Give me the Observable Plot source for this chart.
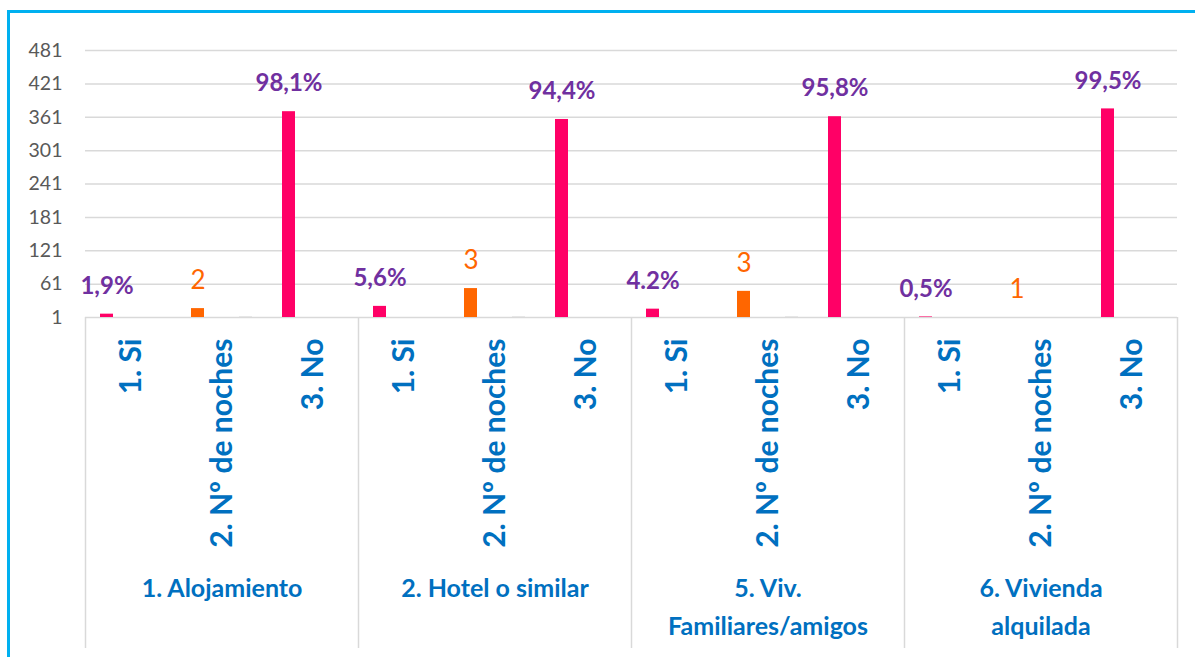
<!DOCTYPE html>
<html><head><meta charset="utf-8">
<script src="https://cdn.jsdelivr.net/npm/d3@7"></script>
<script src="https://cdn.jsdelivr.net/npm/@observablehq/plot@0.6"></script>
<style>
body{margin:0;background:#fff;}
#wrap{position:relative;width:1195px;height:657px;overflow:hidden;}
#border{position:absolute;left:7px;top:10px;width:1300px;height:800px;border-left:3px solid #00B0F0;border-top:3px solid #00B0F0;pointer-events:none;}
</style></head><body>
<div id="wrap"><div id="chart"></div><div id="border"></div></div>
<script>
const groups = ["1. Alojamiento", "2. Hotel o similar", "5. Viv.\nFamiliares/amigos", "6. Vivienda\nalquilada"];
const subcats = ["1. Si", "2. Nº de noches", "3. No"];
const siCounts = [7, 21, 16, 2];
const nochesCounts = [17, 53, 48, 1];
const noCounts = [371, 357, 362, 376];
const otherCounts = [2, 2, 2, 1];
const siLabels = ["1,9%", "5,6%", "4.2%", "0,5%"];
const noLabels = ["98,1%", "94,4%", "95,8%", "99,5%"];
const nochesLabels = ["2", "3", "3", "1"];
const yTicks = [1, 61, 121, 181, 241, 301, 361, 421, 481];

const keyOf = (g, s) => g + "|" + s;
const keys = groups.flatMap(g => subcats.map(s => keyOf(g, s)));

const mainBars = groups.flatMap((g, i) => [
  {key: keyOf(g, subcats[0]), value: siCounts[i], series: "si"},
  {key: keyOf(g, subcats[1]), value: nochesCounts[i], series: "noches"},
  {key: keyOf(g, subcats[2]), value: noCounts[i], series: "no"}
]);
const otherBars = groups.map((g, i) => ({key: keyOf(g, subcats[1]), value: otherCounts[i], series: "otro"}));
const pctRows = groups.flatMap((g, i) => [
  {key: keyOf(g, subcats[0]), value: siCounts[i], label: siLabels[i]},
  {key: keyOf(g, subcats[2]), value: noCounts[i], label: noLabels[i]}
]);
const nochesRows = groups.map((g, i) => ({key: keyOf(g, subcats[1]), value: nochesCounts[i], label: nochesLabels[i]}));

const W = 1195, H = 657, ML = 85, MR = 18, MT = 50, MB = 9;
const yBase = 317;
const bw = (W - ML - MR) / keys.length;
const barW = 13, shift = 24;
const inset = (bw - barW) / 2;
const groupStarts = groups.map(g => keyOf(g, subcats[0]));
const lastKey = keys[keys.length - 1];

const chart = Plot.plot({
  width: W, height: H,
  marginLeft: ML, marginRight: MR, marginTop: MT, marginBottom: MB,
  style: {fontFamily: "Lato, 'Open Sans', sans-serif", background: "white", overflow: "visible"},
  x: {type: "band", domain: keys, padding: 0, axis: null},
  y: {domain: [1, 481], range: [yBase, MT], axis: null},
  color: {domain: ["si", "noches", "no", "otro"], range: ["#FF0066", "#FF6600", "#FF0066", "#D9D9D9"]},
  marks: [
    Plot.gridY(yTicks, {stroke: "#D9D9D9", strokeOpacity: 1, strokeWidth: 1.5}),
    Plot.axisY(yTicks, {tickSize: 0, tickPadding: 23, fontSize: 19.5, color: "#595959", label: null}),
    Plot.ruleX(groupStarts, {x: d => d, insetTop: yBase - MT, dx: -bw / 2, stroke: "#D9D9D9", strokeWidth: 1.5}),
    Plot.ruleX([lastKey], {x: d => d, insetTop: yBase - MT, dx: bw / 2, stroke: "#D9D9D9", strokeWidth: 1.5}),
    Plot.barY(mainBars, {x: "key", y1: () => 1, y2: "value", fill: "series", insetLeft: inset, insetRight: inset, dx: -shift}),
    Plot.barY(otherBars, {x: "key", y1: () => 1, y2: "value", fill: "series", insetLeft: inset, insetRight: inset, dx: shift}),
    Plot.text(pctRows, {x: "key", y: "value", text: "label", dx: -shift, dy: -28, fill: "#7030A0", fontWeight: "bold", fontSize: 24}),
    Plot.text(nochesRows, {x: "key", y: "value", text: "label", dx: -shift, dy: -28, fill: "#FF6600", fontSize: 26}),
    Plot.text(keys, {x: d => d, y: () => 1, text: d => d.split("|")[1], rotate: -90, textAnchor: "end", dy: 21, fill: "#0070C0", fontWeight: "bold", fontSize: 30}),
    Plot.text(groups, {x: g => keyOf(g, subcats[1]), y: () => 1, text: g => g, lineAnchor: "top", lineHeight: 1.5, dy: 253, fill: "#0070C0", fontWeight: "bold", fontSize: 25})
  ]
});
document.getElementById("chart").appendChild(chart);
</script>
</body></html>
